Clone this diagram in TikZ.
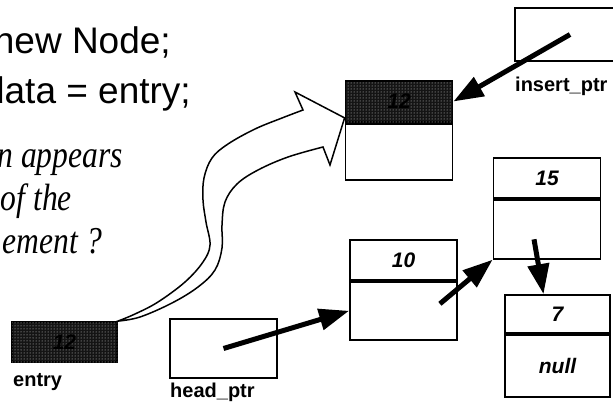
\documentclass[tikz,border=0pt]{standalone}
\usepackage{fontspec}
\setmainfont{Liberation Sans}
\newfontfamily\noteserif{Liberation Serif}
\usepackage{graphicx}
\usepackage{tikz}
\usetikzlibrary{arrows.meta,positioning,patterns}

\begin{document}
\begin{tikzpicture}[x=1pt,y=-1pt,
    cell/.style={draw, line width=1.8pt, minimum width=107pt, inner sep=0pt,
      font=\fontsize{21}{21}\selectfont\bfseries\itshape},
    stipple/.style={fill=black!92, postaction={pattern=dots, pattern color=white!85!black}},
    ptr/.style={-{Triangle[length=30pt,width=21pt]}, line width=5pt},
    lbl/.style={inner sep=0pt, font=\fontsize{20}{20}\selectfont\bfseries},
    code/.style={inner sep=0pt, font=\fontsize{37}{37}\selectfont},
    note/.style={inner sep=0pt, font=\fontsize{38}{38}\selectfont\noteserif\itshape}]
        \useasboundingbox (0,0) rectangle (613,407);

        % statements
        \node[code, anchor=base east] (line1) at (171,53) {new Node;};
        \node[code, anchor=base east] (line2) at (191,103) {data = entry;};
        \node[note, anchor=base east] (note1) at (123,167) {\scalebox{0.83}[1]{n appears}};
        \node[note, anchor=base east] (note2) at (72,210) {\scalebox{0.83}[1]{of the}};
        \node[note, anchor=base east] (note3) at (102,253) {\scalebox{0.83}[1]{ement ?}};

        % pointers
        \node[cell, stipple, minimum width=105pt, minimum height=40pt] (entry) at (64.5,342) {12};
        \node[lbl, anchor=base west] (entrylbl) at (13,386) {entry};
        \node[cell, minimum height=59pt] (head) at (223.5,348.5) {};
        \node[lbl, anchor=base west] (headlbl) at (170,397) {head\_ptr};
        \node[cell, minimum width=110pt, minimum height=53pt] (ins) at (570,34.5) {};
        \node[lbl, anchor=base west] (inslbl) at (515,91) {insert\_ptr};

        % list nodes
        \node[cell, stipple, minimum height=41pt] (n12) at (399,101.5) {12};
        \node[cell, minimum height=56pt, below=0pt of n12] (n12b) {};
        \node[cell, minimum height=40pt] (n10) at (403.5,260) {10};
        \node[cell, minimum height=58pt, below=0pt of n10] (n10b) {};
        \node[cell, minimum height=40pt] (n15) at (547,178) {15};
        \node[cell, minimum height=59pt, below=0pt of n15] (n15b) {};
        \node[cell, minimum width=105pt, minimum height=38pt] (n7) at (557.5,314) {7};
        \node[cell, minimum width=105pt, minimum height=62pt, below=0pt of n7] (n7b) {null};

        \path[ptr] (ins.center) edge (n12.east);
        \path[ptr] (head.center) edge (n10b.west);
        \path[ptr] ([xshift=-18pt,yshift=7pt]n10b.east) edge (n15b.south west);
        \path[ptr] ([xshift=-13pt,yshift=-10pt]n15b.center) edge ([xshift=-14pt]n7.north);

        % block arrow
        \draw[line width=1.5pt, fill=white]
          plot[smooth, tension=0.6] coordinates {(entry.north east) (135,314) (158,302) (185,282)
            (203,262) (210,245) (206,222) (203,200) (204,178) (212,158) (228,144) (255,129) (282,118) (303,110)}
          -- (295,92) -- ([yshift=5pt]n12b.north west) -- (330,165) -- (323,147)
          -- plot[smooth, tension=0.6] coordinates {(323,147) (288,157) (258,170) (237,184) (225,202)
            (222,225) (222,248) (215,270) (198,287) (172,303) (140,317) (entry.north east)} -- cycle;
      \end{tikzpicture}
\end{document}
